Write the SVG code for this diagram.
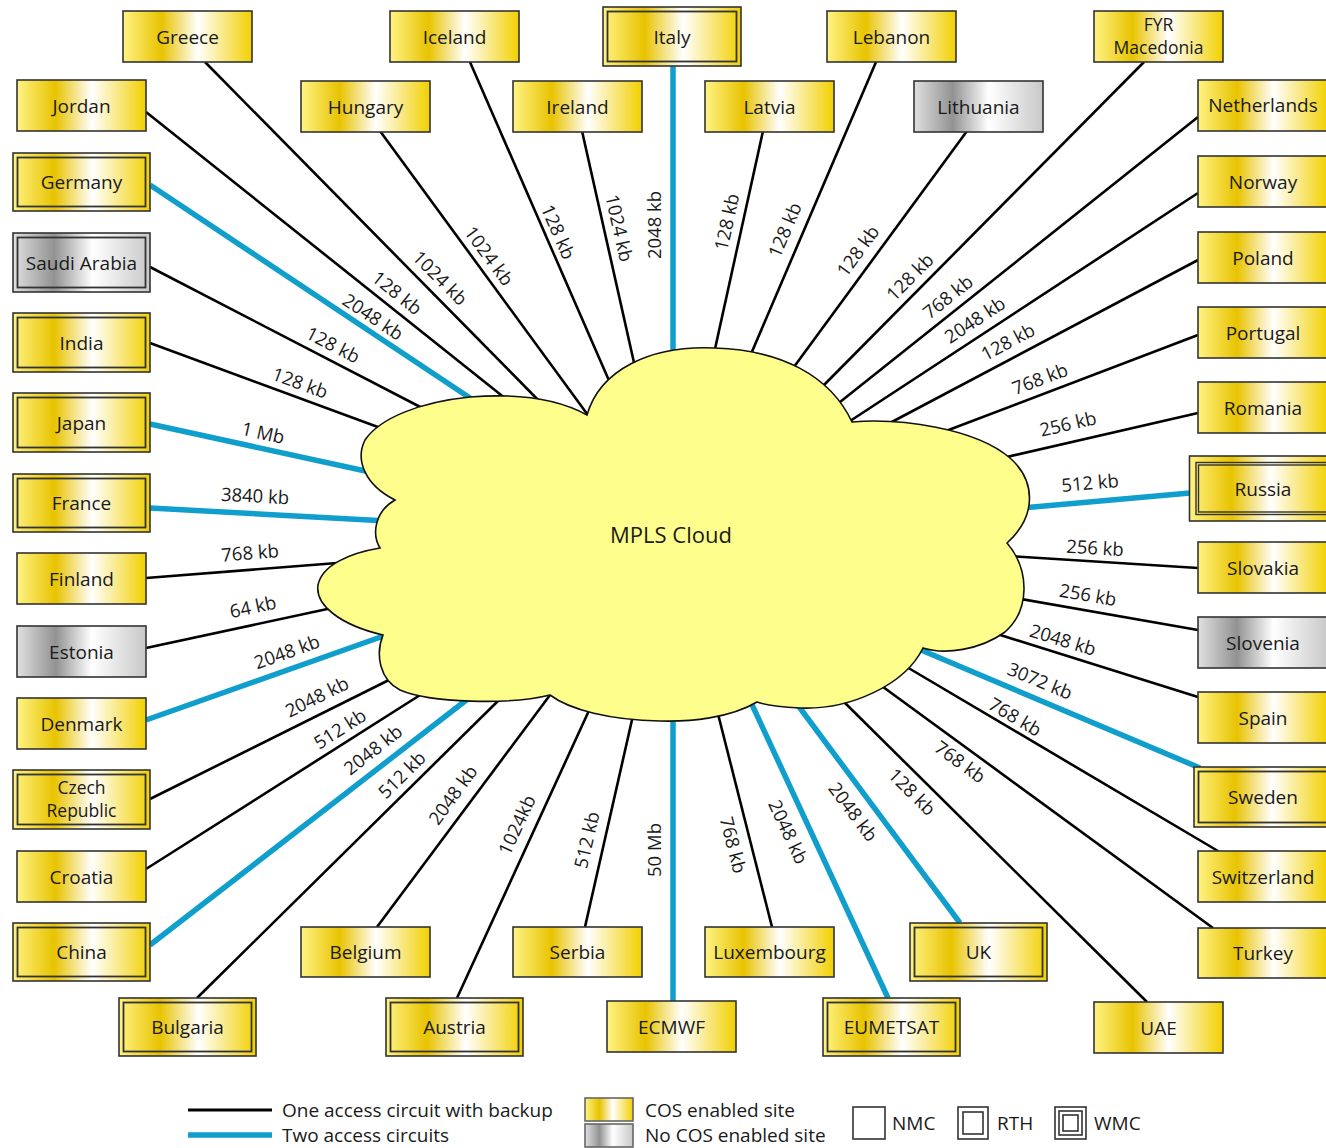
<svg xmlns="http://www.w3.org/2000/svg" width="1326" height="1148" viewBox="0 0 1326 1148">
<defs>
<linearGradient id="gold" x1="0" y1="0" x2="1" y2="0">
<stop offset="0" stop-color="#fff384"/>
<stop offset="0.3" stop-color="#e8c300"/>
<stop offset="0.58" stop-color="#ffffff"/>
<stop offset="1" stop-color="#f2d000"/>
</linearGradient>
<linearGradient id="grey" x1="0" y1="0" x2="1" y2="0">
<stop offset="0" stop-color="#e0e0e0"/>
<stop offset="0.3" stop-color="#929292"/>
<stop offset="0.58" stop-color="#ffffff"/>
<stop offset="1" stop-color="#c8c8c8"/>
</linearGradient>
<style>
.g{fill:url(#gold);stroke:#333;stroke-width:1.6}
.s{fill:url(#grey);stroke:#333;stroke-width:1.6}
.in{fill:none;stroke:#333;stroke-width:1.8}
.t{font-family:"Open Sans","Liberation Sans",sans-serif;font-size:19px;fill:#1a1a1a;text-anchor:middle}
.t2{font-family:"Open Sans","Liberation Sans",sans-serif;font-size:17.5px;fill:#1a1a1a;text-anchor:middle}
.lbl{font-family:"Open Sans","Liberation Sans",sans-serif;font-size:18.5px;fill:#1a1a1a;text-anchor:middle}
.lg{font-family:"Open Sans","Liberation Sans",sans-serif;font-size:19px;fill:#1a1a1a}
.k{stroke:#000;stroke-width:2.6;fill:none}
.b{stroke:#109fcc;stroke-width:5.5;fill:none}
</style>
</defs>
<rect width="1326" height="1148" fill="#fff"/>

<g id="connectors">
<line class="k" x1="205" y1="62" x2="547" y2="409"/>
<line class="k" x1="146" y1="112" x2="511" y2="403"/>
<line class="k" x1="380" y1="131" x2="593" y2="422"/>
<line class="k" x1="470" y1="62" x2="614" y2="392"/>
<line class="k" x1="582" y1="131" x2="637" y2="376"/>
<line class="k" x1="150" y1="267" x2="428" y2="411"/>
<line class="k" x1="150" y1="343" x2="386" y2="430"/>
<line class="k" x1="146" y1="578" x2="350" y2="562"/>
<line class="k" x1="146" y1="648" x2="332" y2="608"/>
<line class="k" x1="150" y1="799" x2="401" y2="674"/>
<line class="k" x1="146" y1="869" x2="428" y2="690"/>
<line class="k" x1="197" y1="998" x2="503" y2="696"/>
<line class="k" x1="377" y1="927" x2="556" y2="687"/>
<line class="k" x1="457" y1="998" x2="592" y2="704"/>
<line class="k" x1="585" y1="927" x2="634" y2="711"/>
<line class="k" x1="772" y1="927" x2="716" y2="706"/>
<line class="k" x1="1147" y1="1002" x2="840" y2="698"/>
<line class="k" x1="1213" y1="928" x2="879" y2="684"/>
<line class="k" x1="1218" y1="851" x2="900" y2="663"/>
<line class="k" x1="1198" y1="697" x2="994" y2="633"/>
<line class="k" x1="1198" y1="630" x2="1015" y2="598"/>
<line class="k" x1="1198" y1="568" x2="1008" y2="556"/>
<line class="k" x1="1198" y1="413" x2="998" y2="459"/>
<line class="k" x1="1198" y1="335" x2="938" y2="434"/>
<line class="k" x1="1198" y1="260" x2="871" y2="433"/>
<line class="k" x1="1198" y1="193" x2="844" y2="425"/>
<line class="k" x1="1198" y1="117" x2="835" y2="406"/>
<line class="k" x1="1144" y1="62" x2="820" y2="389"/>
<line class="k" x1="967" y1="131" x2="791" y2="371"/>
<line class="k" x1="876" y1="62" x2="748" y2="361"/>
<line class="k" x1="763" y1="131" x2="713" y2="358"/>
<line class="b" x1="673" y1="66" x2="673" y2="362"/>
<line class="b" x1="150" y1="185" x2="476" y2="402"/>
<line class="b" x1="150" y1="424" x2="370" y2="472"/>
<line class="b" x1="150" y1="508" x2="387" y2="521"/>
<line class="b" x1="146" y1="720" x2="392" y2="633"/>
<line class="b" x1="150" y1="945" x2="469" y2="698"/>
<line class="b" x1="673" y1="1001" x2="673" y2="710"/>
<line class="b" x1="888" y1="998" x2="748" y2="696"/>
<line class="b" x1="960" y1="923" x2="794" y2="700"/>
<line class="b" x1="1200" y1="768" x2="914" y2="647"/>
<line class="b" x1="1190" y1="493" x2="1022" y2="508"/>
</g>

<g id="cloud">
<path d="M587,415 C600,370 650,345 715,348 C780,350 830,375 852,422 C900,418 975,428 1010,458 C1035,480 1038,515 1007,543 C1030,570 1030,610 1005,632 C980,650 945,655 923,648 C905,685 850,710 800,708 C780,707 765,705 757,702 C730,718 690,722 660,721 C610,720 570,710 550,695 C510,705 430,703 400,690 C380,680 375,655 383,635 C340,625 315,605 318,585 C322,565 350,553 380,548 C372,535 374,512 395,500 C365,485 355,460 365,440 C380,418 420,402 470,397 C520,393 560,400 587,415 Z" fill="#fefe8c" stroke="#111" stroke-width="1.6"/>
<text class="t" x="671" y="543" style="font-size:22px">MPLS Cloud</text>
</g>

<g id="labels">
<text class="lbl" transform="translate(397,293) rotate(38.8)" dy="0.35em">128 kb</text>
<text class="lbl" transform="translate(373,317) rotate(33.7)" dy="0.35em">2048 kb</text>
<text class="lbl" transform="translate(440,278) rotate(45)" dy="0.35em">1024 kb</text>
<text class="lbl" transform="translate(489,256) rotate(53.7)" dy="0.35em">1024 kb</text>
<text class="lbl" transform="translate(558,232) rotate(66.4)" dy="0.35em">128 kb</text>
<text class="lbl" transform="translate(619,228) rotate(77.3)" dy="0.35em">1024 kb</text>
<text class="lbl" transform="translate(655,225) rotate(-90)" dy="0.35em">2048 kb</text>
<text class="lbl" transform="translate(333,345) rotate(27.5)" dy="0.35em">128 kb</text>
<text class="lbl" transform="translate(300,383) rotate(20)" dy="0.35em">128 kb</text>
<text class="lbl" transform="translate(263,433) rotate(12.7)" dy="0.35em">1 Mb</text>
<text class="lbl" transform="translate(255,496) rotate(3)" dy="0.35em">3840 kb</text>
<text class="lbl" transform="translate(250,553) rotate(-4.4)" dy="0.35em">768 kb</text>
<text class="lbl" transform="translate(253,607) rotate(-12)" dy="0.35em">64 kb</text>
<text class="lbl" transform="translate(287,652) rotate(-19.6)" dy="0.35em">2048 kb</text>
<text class="lbl" transform="translate(317,697) rotate(-26.5)" dy="0.35em">2048 kb</text>
<text class="lbl" transform="translate(340,729) rotate(-32.4)" dy="0.35em">512 kb</text>
<text class="lbl" transform="translate(373,750) rotate(-38)" dy="0.35em">2048 kb</text>
<text class="lbl" transform="translate(402,775) rotate(-44.5)" dy="0.35em">512 kb</text>
<text class="lbl" transform="translate(453,795) rotate(-53.9)" dy="0.35em">2048 kb</text>
<text class="lbl" transform="translate(517,825) rotate(-65)" dy="0.35em">1024kb</text>
<text class="lbl" transform="translate(587,840) rotate(-77)" dy="0.35em">512 kb</text>
<text class="lbl" transform="translate(655,850) rotate(-90)" dy="0.35em">50 Mb</text>
<text class="lbl" transform="translate(733,845) rotate(75.7)" dy="0.35em">768 kb</text>
<text class="lbl" transform="translate(788,832) rotate(65)" dy="0.35em">2048 kb</text>
<text class="lbl" transform="translate(853,812) rotate(53.2)" dy="0.35em">2048 kb</text>
<text class="lbl" transform="translate(912,792) rotate(44.8)" dy="0.35em">128 kb</text>
<text class="lbl" transform="translate(960,762) rotate(36)" dy="0.35em">768 kb</text>
<text class="lbl" transform="translate(1015,717) rotate(30.6)" dy="0.35em">768 kb</text>
<text class="lbl" transform="translate(1040,681) rotate(22.3)" dy="0.35em">3072 kb</text>
<text class="lbl" transform="translate(1063,640) rotate(17)" dy="0.35em">2048 kb</text>
<text class="lbl" transform="translate(1088,595) rotate(9.8)" dy="0.35em">256 kb</text>
<text class="lbl" transform="translate(1095,548) rotate(3.5)" dy="0.35em">256 kb</text>
<text class="lbl" transform="translate(1090,483) rotate(-5)" dy="0.35em">512 kb</text>
<text class="lbl" transform="translate(1068,424) rotate(-13)" dy="0.35em">256 kb</text>
<text class="lbl" transform="translate(1040,379) rotate(-20.7)" dy="0.35em">768 kb</text>
<text class="lbl" transform="translate(1008,342) rotate(-27.9)" dy="0.35em">128 kb</text>
<text class="lbl" transform="translate(975,320) rotate(-33.3)" dy="0.35em">2048 kb</text>
<text class="lbl" transform="translate(948,297) rotate(-38.6)" dy="0.35em">768 kb</text>
<text class="lbl" transform="translate(910,277) rotate(-45.3)" dy="0.35em">128 kb</text>
<text class="lbl" transform="translate(858,251) rotate(-53.6)" dy="0.35em">128 kb</text>
<text class="lbl" transform="translate(785,230) rotate(-67)" dy="0.35em">128 kb</text>
<text class="lbl" transform="translate(727,222) rotate(-77.5)" dy="0.35em">128 kb</text>
</g>

<g id="greece"><rect class="g" x="123" y="11" width="129" height="51"/><text class="t" x="187.5" y="43.5">Greece</text></g>
<g id="iceland"><rect class="g" x="390" y="11" width="129" height="51"/><text class="t" x="454.5" y="43.5">Iceland</text></g>
<g id="italy"><rect class="g" x="603" y="7" width="138" height="59"/><rect class="in" x="607.5" y="11.5" width="129" height="50"/><text class="t" x="672" y="43.5">Italy</text></g>
<g id="lebanon"><rect class="g" x="827" y="11" width="129" height="51"/><text class="t" x="891.5" y="43.5">Lebanon</text></g>
<g id="fyr-macedonia"><rect class="g" x="1094" y="11" width="129" height="51"/><text class="t2" x="1158.5" y="31">FYR</text><text class="t2" x="1158.5" y="54">Macedonia</text></g>
<g id="jordan"><rect class="g" x="17" y="80" width="129" height="51"/><text class="t" x="81.5" y="112.5">Jordan</text></g>
<g id="hungary"><rect class="g" x="301" y="81" width="129" height="51"/><text class="t" x="365.5" y="113.5">Hungary</text></g>
<g id="ireland"><rect class="g" x="513" y="81" width="129" height="51"/><text class="t" x="577.5" y="113.5">Ireland</text></g>
<g id="latvia"><rect class="g" x="705" y="81" width="129" height="51"/><text class="t" x="769.5" y="113.5">Latvia</text></g>
<g id="lithuania"><rect class="s" x="914" y="81" width="129" height="51"/><text class="t" x="978.5" y="113.5">Lithuania</text></g>
<g id="netherlands"><rect class="g" x="1198" y="80" width="130" height="51"/><text class="t" x="1263" y="112">Netherlands</text></g>
<g id="norway"><rect class="g" x="1198" y="156" width="130" height="51"/><text class="t" x="1263" y="188.5">Norway</text></g>
<g id="poland"><rect class="g" x="1198" y="232" width="130" height="51"/><text class="t" x="1263" y="264.5">Poland</text></g>
<g id="portugal"><rect class="g" x="1198" y="307" width="130" height="51"/><text class="t" x="1263" y="339.5">Portugal</text></g>
<g id="romania"><rect class="g" x="1198" y="382" width="130" height="51"/><text class="t" x="1263" y="414.5">Romania</text></g>
<g id="russia"><rect class="g" x="1189.5" y="456" width="140" height="65"/><rect class="in" x="1196" y="462.5" width="140" height="52" style="stroke-width:1.4"/><rect class="in" x="1198.5" y="465" width="140" height="47" style="stroke-width:1.4"/><text class="t" x="1263" y="495.5">Russia</text></g>
<g id="slovakia"><rect class="g" x="1198" y="542" width="130" height="51"/><text class="t" x="1263" y="574.5">Slovakia</text></g>
<g id="slovenia"><rect class="s" x="1198" y="617" width="130" height="51"/><text class="t" x="1263" y="649.5">Slovenia</text></g>
<g id="spain"><rect class="g" x="1198" y="692" width="130" height="51"/><text class="t" x="1263" y="724.5">Spain</text></g>
<g id="sweden"><rect class="g" x="1194" y="767" width="135" height="60"/><rect class="in" x="1198.5" y="771.5" width="135" height="51"/><text class="t" x="1263" y="804">Sweden</text></g>
<g id="switzerland"><rect class="g" x="1198" y="851" width="130" height="51"/><text class="t" x="1263" y="883.5">Switzerland</text></g>
<g id="turkey"><rect class="g" x="1198" y="928" width="130" height="50"/><text class="t" x="1263" y="960">Turkey</text></g>
<g id="germany"><rect class="g" x="13" y="153" width="137" height="58"/><rect class="in" x="17.5" y="157.5" width="128" height="49"/><text class="t" x="81.5" y="189">Germany</text></g>
<g id="saudi-arabia"><rect class="s" x="13" y="233" width="137" height="59"/><rect class="in" x="17.5" y="237.5" width="128" height="50"/><text class="t" x="81.5" y="269.5">Saudi Arabia</text></g>
<g id="india"><rect class="g" x="13" y="313" width="137" height="59"/><rect class="in" x="17.5" y="317.5" width="128" height="50"/><text class="t" x="81.5" y="349.5">India</text></g>
<g id="japan"><rect class="g" x="13" y="393" width="137" height="59"/><rect class="in" x="17.5" y="397.5" width="128" height="50"/><text class="t" x="81.5" y="429.5">Japan</text></g>
<g id="france"><rect class="g" x="13" y="474" width="137" height="58"/><rect class="in" x="17.5" y="478.5" width="128" height="49"/><text class="t" x="81.5" y="510">France</text></g>
<g id="finland"><rect class="g" x="17" y="553" width="129" height="51"/><text class="t" x="81.5" y="585.5">Finland</text></g>
<g id="estonia"><rect class="s" x="17" y="626" width="129" height="51"/><text class="t" x="81.5" y="658.5">Estonia</text></g>
<g id="denmark"><rect class="g" x="17" y="698" width="129" height="51"/><text class="t" x="81.5" y="730.5">Denmark</text></g>
<g id="czech-republic"><rect class="g" x="13" y="770" width="137" height="59"/><rect class="in" x="17.5" y="774.5" width="128" height="50"/><text class="t2" x="81.5" y="794">Czech</text><text class="t2" x="81.5" y="817">Republic</text></g>
<g id="croatia"><rect class="g" x="17" y="851" width="129" height="51"/><text class="t" x="81.5" y="883.5">Croatia</text></g>
<g id="china"><rect class="g" x="13" y="923" width="137" height="58"/><rect class="in" x="17.5" y="927.5" width="128" height="49"/><text class="t" x="81.5" y="959">China</text></g>
<g id="bulgaria"><rect class="g" x="119" y="998" width="137" height="58"/><rect class="in" x="123.5" y="1002.5" width="128" height="49"/><text class="t" x="187.5" y="1034">Bulgaria</text></g>
<g id="belgium"><rect class="g" x="301" y="927" width="129" height="50"/><text class="t" x="365.5" y="959">Belgium</text></g>
<g id="austria"><rect class="g" x="386" y="998" width="137" height="58"/><rect class="in" x="390.5" y="1002.5" width="128" height="49"/><text class="t" x="454.5" y="1034">Austria</text></g>
<g id="serbia"><rect class="g" x="513" y="927" width="129" height="50"/><text class="t" x="577.5" y="959">Serbia</text></g>
<g id="ecmwf"><rect class="g" x="607" y="1001" width="129" height="51"/><text class="t" x="671.5" y="1033.5">ECMWF</text></g>
<g id="luxembourg"><rect class="g" x="705" y="927" width="129" height="50"/><text class="t" x="769.5" y="959">Luxembourg</text></g>
<g id="eumetsat"><rect class="g" x="823" y="998" width="137" height="58"/><rect class="in" x="827.5" y="1002.5" width="128" height="49"/><text class="t" x="891.5" y="1034">EUMETSAT</text></g>
<g id="uk"><rect class="g" x="910" y="923" width="137" height="58"/><rect class="in" x="914.5" y="927.5" width="128" height="49"/><text class="t" x="978.5" y="959">UK</text></g>
<g id="uae"><rect class="g" x="1094" y="1002" width="129" height="51"/><text class="t" x="1158.5" y="1034.5">UAE</text></g>

<g id="legend">
<line x1="188" y1="1110" x2="272" y2="1110" stroke="#000" stroke-width="3"/>
<line x1="188" y1="1135" x2="272" y2="1135" stroke="#109fcc" stroke-width="5.5"/>
<text class="lg" x="282" y="1117">One access circuit with backup</text>
<text class="lg" x="282" y="1142">Two access circuits</text>
<rect class="g" x="585" y="1098" width="48" height="23" style="stroke:#666"/>
<rect class="s" x="585" y="1124" width="48" height="23" style="stroke:#666"/>
<text class="lg" x="645" y="1117">COS enabled site</text>
<text class="lg" x="645" y="1142">No COS enabled site</text>
<rect x="853" y="1107" width="32" height="32" fill="none" stroke="#333" stroke-width="1.6"/>
<text class="lg" x="892" y="1130">NMC</text>
<rect x="958" y="1107" width="30" height="32" fill="none" stroke="#333" stroke-width="1.6"/>
<rect x="963" y="1112" width="20" height="22" fill="none" stroke="#333" stroke-width="1.6"/>
<text class="lg" x="997" y="1130">RTH</text>
<rect x="1055" y="1107" width="31" height="32" fill="none" stroke="#333" stroke-width="1.6"/>
<rect x="1059" y="1111" width="23" height="24" fill="none" stroke="#333" stroke-width="1.6"/>
<rect x="1063" y="1115" width="15" height="16" fill="none" stroke="#333" stroke-width="1.6"/>
<text class="lg" x="1094" y="1130">WMC</text>
</g>
</svg>
